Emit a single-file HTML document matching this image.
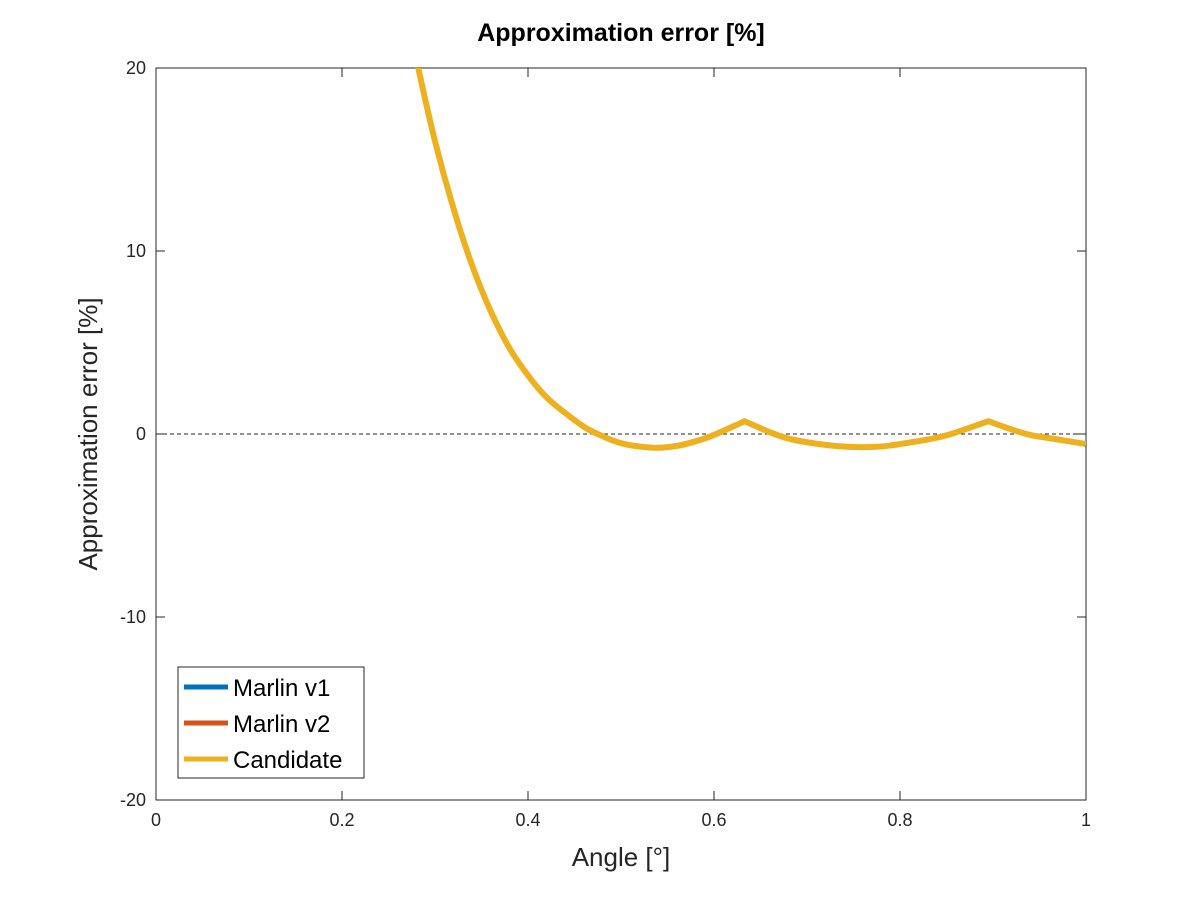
<!DOCTYPE html>
<html><head><meta charset="utf-8"><style>body{margin:0;background:#fff}svg{display:block;font-family:"Liberation Sans",sans-serif}</style></head>
<body>
<svg id="chart" width="1200" height="900">
<text x="621" y="41" text-anchor="middle" font-size="25" font-weight="bold">Approximation error [%]</text>
<defs><clipPath id="clip"><rect x="156" y="68" width="930" height="732"/></clipPath></defs>
<rect x="156" y="68" width="930" height="732" fill="#fff" stroke="#262626" stroke-width="1"/>
<g id="ticks"></g>
<line id="zeroline" stroke="#262626" stroke-dasharray="4,3" stroke-width="1"/>
<g clip-path="url(#clip)"><path id="series" fill="none" stroke="#EDB120" stroke-width="6" stroke-linejoin="round"/></g>
<text x="621" y="866" text-anchor="middle" font-size="26" fill="#262626">Angle [°]</text>
<text transform="translate(97,434) rotate(-90)" text-anchor="middle" font-size="26" fill="#262626">Approximation error [%]</text>
<g>
<rect x="178" y="667" width="186" height="111" fill="#fff" stroke="#262626" stroke-width="1"/>
<line x1="184" y1="687" x2="228" y2="687" stroke="#0072BD" stroke-width="5"/>
<text x="233" y="696" font-size="24">Marlin v1</text>
<line x1="184" y1="723" x2="228" y2="723" stroke="#D95319" stroke-width="5"/>
<text x="233" y="732" font-size="24">Marlin v2</text>
<line x1="184" y1="759" x2="228" y2="759" stroke="#EDB120" stroke-width="5"/>
<text x="233" y="768" font-size="24">Candidate</text>
</g>
</svg>
<script>
const angles = [0.27,0.282,0.30,0.32,0.34,0.36,0.38,0.40,0.42,0.44,0.46,0.475,0.50,0.535,0.56,0.58,0.60,0.633,0.66,0.68,0.70,0.73,0.755,0.78,0.80,0.83,0.855,0.895,0.92,0.94,0.97,1.0];
const errors = [23,20,16,12.3,9.2,6.7,4.7,3.2,2.0,1.15,0.4,0,-0.5,-0.75,-0.65,-0.4,-0.05,0.7,0.1,-0.25,-0.45,-0.65,-0.72,-0.68,-0.55,-0.3,0,0.7,0.25,-0.05,-0.3,-0.55];
const peaks = [0.633,0.895];
const xTicks = [0,0.2,0.4,0.6,0.8,1];
const xTickLabels = ["0","0.2","0.4","0.6","0.8","1"];
const yTicks = [-20,-10,0,10,20];
const yTickLabels = ["-20","-10","0","10","20"];
const X0=156,X1=1086,Y0=800,Y1=68;
const sx=v=>X0+(v-0)/(1-0)*(X1-X0);
const sy=v=>Y0-(v+20)/40*(Y0-Y1);
const NS="http://www.w3.org/2000/svg";
const g=document.getElementById('ticks');
function mk(t,a){const e=document.createElementNS(NS,t);for(const k in a)e.setAttribute(k,a[k]);return e;}
xTicks.forEach((v,i)=>{
  const x=sx(v);
  const t1=mk('line',{x1:x,x2:x,y1:Y0,y2:Y0-9,stroke:'#262626'});
  
  
  g.appendChild(t1);
  const t2=mk('line',{x1:x,x2:x,y1:Y1,y2:Y1+9,stroke:'#262626'});
  
  
  g.appendChild(t2);
  const l=mk('text',{x:x,y:Y0+26,'text-anchor':'middle','font-size':18,fill:'#262626'});
  l.textContent=xTickLabels[i];
  
  
  g.appendChild(l);
});
yTicks.forEach((v,i)=>{
  const y=sy(v);
  const t1=mk('line',{x1:X0,x2:X0+9,y1:y,y2:y,stroke:'#262626'});
  
  
  g.appendChild(t1);
  const t2=mk('line',{x1:X1,x2:X1-9,y1:y,y2:y,stroke:'#262626'});
  
  
  g.appendChild(t2);
  const l=mk('text',{x:X0-10,y:y+6,'text-anchor':'end','font-size':18,fill:'#262626'});
  l.textContent=yTickLabels[i];
  
  
  g.appendChild(l);
});
const z=document.getElementById('zeroline');
z.setAttribute('x1',X0);z.setAttribute('x2',X1);z.setAttribute('y1',sy(0));z.setAttribute('y2',sy(0));
const P=angles.map((a,i)=>[sx(a),sy(errors[i])]);
const isPeak=j=>peaks.includes(angles[j]);
let d='M'+P[0][0]+','+P[0][1];
for(let i=0;i<P.length-1;i++){
  const p0=P[Math.max(0,i-1)],p1=P[i],p2=P[i+1],p3=P[Math.min(P.length-1,i+2)];
  let c1=[p1[0]+(p2[0]-p0[0])/6,p1[1]+(p2[1]-p0[1])/6];
  let c2=[p2[0]-(p3[0]-p1[0])/6,p2[1]-(p3[1]-p1[1])/6];
  if(isPeak(i))c1=[p1[0]+(p2[0]-p1[0])/3,p1[1]+(p2[1]-p1[1])/3];
  if(isPeak(i+1))c2=[p2[0]-(p2[0]-p1[0])/3,p2[1]-(p2[1]-p1[1])/3];
  d+=' C'+c1[0]+','+c1[1]+' '+c2[0]+','+c2[1]+' '+p2[0]+','+p2[1];
}
document.getElementById('series').setAttribute('d',d);
</script>
</body></html>
